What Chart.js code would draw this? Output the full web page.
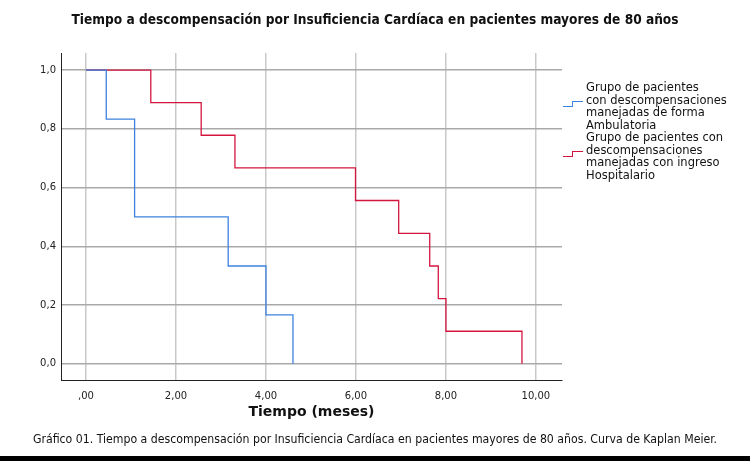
<!DOCTYPE html>
<html>
<head>
<meta charset="utf-8">
<script src="https://cdn.jsdelivr.net/npm/chart.js@4/dist/chart.umd.min.js"></script>
<style>
  body { margin: 0; background: #fff; font-family: "DejaVu Sans", sans-serif; }
  #wrap { position: relative; width: 750px; height: 461px; overflow: hidden; }
  #chart { position: absolute; left: 0; top: 0; }
  .title { position: absolute; left: 0; width: 750px; top: 11px; text-align: center;
    font: bold 13.6px "DejaVu Sans Condensed", "DejaVu Sans", sans-serif; color: #111; }
  .xtitle { position: absolute; left: 61px; width: 501px; top: 403px; text-align: center;
    font: bold 14px "DejaVu Sans", sans-serif; color: #111; }
  .caption { position: absolute; left: 0; width: 750px; top: 432px; text-align: center;
    font: 12.2px "DejaVu Sans Condensed", "DejaVu Sans", sans-serif; color: #111; }
  .bar { position: absolute; left: 0; width: 750px; top: 456px; height: 5px; background: #000; }
  .legend { position: absolute; left: 563px; font: 11.5px "DejaVu Sans", sans-serif; color: #111; }
  .item { position: relative; padding-left: 23px; line-height: 12.5px; }
  .sym { position: absolute; left: 0; width: 20px; height: 6px; }
  .sym .a, .sym .b { position: absolute; box-sizing: border-box; }
  .sym .a { left: 0; top: 5px; width: 10px; height: 1px; }
  .sym .b { left: 9px; top: 0; width: 11px; height: 6px; border-left: 1px solid; border-top: 1px solid; }
</style>
</head>
<body>
<div id="wrap">
  <canvas id="chart" width="750" height="461"></canvas>
  <div class="title">Tiempo a descompensación por Insuficiencia Cardíaca en pacientes mayores de 80 años</div>
  <div class="legend" id="legend"></div>
  <div class="xtitle">Tiempo (meses)</div>
  <div class="caption">Gráfico 01. Tiempo a descompensación por Insuficiencia Cardíaca en pacientes mayores de 80 años. Curva de Kaplan Meier.</div>
  <div class="bar"></div>
</div>
<script>
// Kaplan-Meier steps
const ambTimes = [0, 0.45, 1.08, 3.16, 4.0, 4.6];
const ambSurv = [1.0, 0.833, 0.5, 0.333, 0.167, 0.0];

const hospTimes = [0, 1.44, 2.56, 3.31, 5.99, 6.95, 7.64, 7.83, 8.0, 9.69];
const hospSurv = [1.0, 0.889, 0.778, 0.667, 0.556, 0.444, 0.333, 0.222, 0.111, 0.0];

const xTicks = [0, 2, 4, 6, 8, 10];
const yTicks = [0, 0.2, 0.4, 0.6, 0.8, 1.0];

const seriesLabels = [
  ["Grupo de pacientes", "con descompensaciones", "manejadas de forma", "Ambulatoria"],
  ["Grupo de pacientes con", "descompensaciones", "manejadas con ingreso", "Hospitalario"]
];
const colors = ["#3d82e0", "#d4163f"];

// legend (html)
const legend = document.getElementById("legend");
legend.style.top = "81px";
seriesLabels.forEach((lines, i) => {
  const item = document.createElement("div");
  item.className = "item";
  const sym = document.createElement("div");
  sym.className = "sym";
  sym.style.top = "20px";
  sym.innerHTML = `<div class="a" style="background:${colors[i]}"></div><div class="b" style="border-color:${colors[i]}"></div>`;
  item.appendChild(sym);
  lines.forEach(t => {
    const d = document.createElement("div");
    d.textContent = t;
    item.appendChild(d);
  });
  legend.appendChild(item);
});

function toPoints(xs, ys) {
  return xs.map((x, i) => ({ x: x, y: ys[i] }));
}

const ctx = document.getElementById("chart").getContext("2d");
new Chart(ctx, {
  type: "line",
  data: {
    datasets: [
      {
        label: seriesLabels[0].join(" "),
        data: toPoints(ambTimes, ambSurv),
        borderColor: colors[0],
        borderWidth: 1.3,
        stepped: true,
        pointRadius: 0,
        fill: false
      },
      {
        label: seriesLabels[1].join(" "),
        data: toPoints(hospTimes, hospSurv),
        borderColor: colors[1],
        borderWidth: 1.3,
        stepped: true,
        pointRadius: 0,
        fill: false
      }
    ]
  },
  options: {
    responsive: false,
    animation: false,
    layout: { padding: { left: 0, top: 53, right: 188, bottom: 0 } },
    plugins: {
      legend: { display: false },
      tooltip: { enabled: false }
    },
    scales: {
      x: {
        type: "linear",
        min: -0.556,
        max: 10.58,
        afterBuildTicks: s => { s.ticks = xTicks.map(v => ({ value: v })); },
        afterFit: s => { s.height = 81; },
        ticks: {
          color: "#222",
          font: { family: "DejaVu Sans", size: 10 },
          padding: 10,
          maxRotation: 0,
          callback: v => v === 0 ? ",00" : v.toFixed(2).replace(".", ",")
        },
        grid: { color: "#c9c9c9", lineWidth: 1.5, drawTicks: false },
        border: { color: "#222", width: 1 }
      },
      y: {
        min: -0.055,
        max: 1.058,
        afterBuildTicks: s => { s.ticks = yTicks.map(v => ({ value: v })); },
        afterFit: s => { s.width = 61; },
        ticks: {
          color: "#222",
          font: { family: "DejaVu Sans", size: 10 },
          padding: 5,
          callback: v => v.toFixed(1).replace(".", ",")
        },
        grid: { color: "#a9a9a9", lineWidth: 1.5, drawTicks: false },
        border: { color: "#222", width: 1 }
      }
    }
  }
});
</script>
</body>
</html>
